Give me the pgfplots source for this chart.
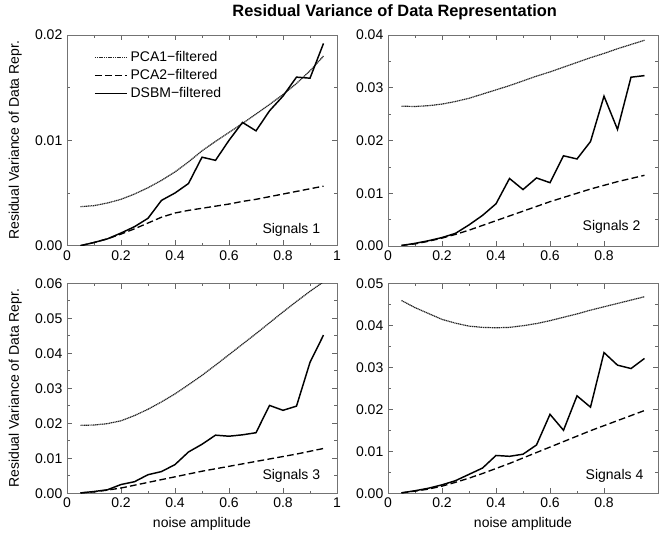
\documentclass[border=0pt]{standalone}
\usepackage{pgfplots}
\pgfplotsset{compat=1.18}
\usepackage{pgfplotstable}
\usepackage{fontspec}
\setmainfont{Liberation Sans}
\setsansfont{Liberation Sans}

\pgfplotstableread{
x pcaA pcaB dsbm
0.05 0.00370 0.00000 0.00000
0.10 0.00380 0.00030 0.00030
0.15 0.00405 0.00065 0.00065
0.20 0.00440 0.00110 0.00120
0.25 0.00490 0.00160 0.00180
0.30 0.00550 0.00215 0.00260
0.35 0.00620 0.00270 0.00430
0.40 0.00700 0.00310 0.00500
0.45 0.00795 0.00335 0.00590
0.50 0.00900 0.00355 0.00840
0.55 0.00990 0.00375 0.00810
0.60 0.01075 0.00395 0.01000
0.65 0.01160 0.00420 0.01170
0.70 0.01250 0.00440 0.01090
0.75 0.01340 0.00465 0.01280
0.80 0.01435 0.00490 0.01420
0.85 0.01540 0.00515 0.01600
0.90 0.01660 0.00540 0.01590
0.95 0.01800 0.00565 0.01920
}\sA

\pgfplotstableread{
x pcaA pcaB dsbm
0.05 0.02650 0.00010 0.00010
0.10 0.02645 0.00040 0.00050
0.15 0.02660 0.00090 0.00100
0.20 0.02690 0.00150 0.00160
0.25 0.02740 0.00220 0.00240
0.30 0.02800 0.00300 0.00400
0.35 0.02880 0.00390 0.00580
0.40 0.02960 0.00480 0.00800
0.45 0.03040 0.00570 0.01280
0.50 0.03130 0.00660 0.01070
0.55 0.03220 0.00750 0.01290
0.60 0.03300 0.00840 0.01200
0.65 0.03390 0.00920 0.01710
0.70 0.03480 0.01000 0.01650
0.75 0.03570 0.01080 0.01980
0.80 0.03650 0.01150 0.02840
0.85 0.03740 0.01220 0.02210
0.90 0.03820 0.01280 0.03200
0.95 0.03900 0.01340 0.03230
}\sB

\pgfplotstableread{
x pcaA pcaB dsbm
0.05 0.01940 0.00010 0.00010
0.10 0.01950 0.00040 0.00050
0.15 0.01990 0.00090 0.00100
0.20 0.02070 0.00150 0.00250
0.25 0.02220 0.00230 0.00330
0.30 0.02400 0.00310 0.00530
0.35 0.02610 0.00390 0.00620
0.40 0.02840 0.00470 0.00820
0.45 0.03100 0.00550 0.01180
0.50 0.03370 0.00630 0.01400
0.55 0.03660 0.00700 0.01660
0.60 0.03960 0.00770 0.01630
0.65 0.04260 0.00840 0.01670
0.70 0.04560 0.00910 0.01730
0.75 0.04870 0.00980 0.02510
0.80 0.05180 0.01050 0.02370
0.85 0.05480 0.01120 0.02490
0.90 0.05770 0.01200 0.03740
0.95 0.06040 0.01280 0.04520
}\sC

\pgfplotstableread{
x pcaA pcaB dsbm
0.05 0.04590 0.00010 0.00010
0.10 0.04420 0.00050 0.00060
0.15 0.04280 0.00100 0.00120
0.20 0.04140 0.00170 0.00200
0.25 0.04050 0.00260 0.00300
0.30 0.03980 0.00360 0.00450
0.35 0.03950 0.00470 0.00600
0.40 0.03940 0.00590 0.00900
0.45 0.03950 0.00710 0.00880
0.50 0.03990 0.00840 0.00930
0.55 0.04040 0.00970 0.01150
0.60 0.04110 0.01100 0.01880
0.65 0.04190 0.01230 0.01500
0.70 0.04270 0.01360 0.02320
0.75 0.04360 0.01490 0.02050
0.80 0.04440 0.01610 0.03350
0.85 0.04520 0.01730 0.03050
0.90 0.04600 0.01850 0.02970
0.95 0.04680 0.01970 0.03210
}\sD

\pgfplotsset{
  panel/.style={
    scale only axis, anchor=south west,
    xmin=0, xmax=1, ymin=0,
    width=202.5pt,
    axis line style={black!55, line width=0.5pt},
    tick style={black!60, line width=0.5pt},
    major tick length=4pt, minor tick length=2pt,
    minor x tick num=1, minor y tick num=1,
    scaled y ticks=false, scaled x ticks=false,
    yticklabel style={/pgf/number format/.cd, fixed, fixed zerofill, precision=2},
    xticklabel style={/pgf/number format/.cd, fixed, precision=1},
    /pgf/number format/assume math mode=true,
    tick label style={font=\fontsize{10.5}{12}\selectfont},
    label style={font=\fontsize{10.5}{12}\selectfont},
    ylabel shift=3pt,
  },
  pcaA/.style={black!85, line width=0.9pt, dash pattern=on 0.9pt off 0.45pt},
  pcaB/.style={black, line width=1.0pt, dash pattern=on 5pt off 2.5pt},
  dsbm/.style={black, line width=1.1pt},
}

\begin{document}
\begin{tikzpicture}
\useasboundingbox (0pt,0pt) rectangle (494.25pt,401.25pt);

% Title
\node[font=\bfseries\fontsize{12.3}{14}\selectfont] at (296pt,392pt) {Residual Variance of Data Representation};

% Top-left
\begin{axis}[panel, at={(50.25pt,217pt)}, height=158pt,
  ymax=0.02,
  xtick={0,0.2,0.4,0.6,0.8,1}, ytick={0,0.01,0.02},
  ylabel={Residual Variance of Data Repr.},
  legend style={at={(0.085,0.95)}, anchor=north west, draw=none, fill=none,
    font=\fontsize{10.5}{12}\selectfont, row sep=0.5pt},
  legend cell align=left,
  legend image code/.code={\draw[#1] (0cm,0cm) -- (0.85cm,0cm);},
]
\addplot[pcaA] table[x=x, y=pcaA] {\sA};
\addlegendentry{PCA1−filtered}
\addplot[pcaB] table[x=x, y=pcaB] {\sA};
\addlegendentry{PCA2−filtered}
\addplot[dsbm] table[x=x, y=dsbm] {\sA};
\addlegendentry{DSBM−filtered}
\node[anchor=east, font=\fontsize{10.5}{12}\selectfont] at (rel axis cs:0.955,0.075) {Signals 1};
\end{axis}

% Top-right
\begin{axis}[panel, at={(291pt,216.75pt)}, height=158.25pt,
  ymax=0.04,
  xtick={0,0.2,0.4,0.6,0.8}, ytick={0,0.01,0.02,0.03,0.04},
]
\addplot[pcaA] table[x=x, y=pcaA] {\sB};
\addplot[pcaB] table[x=x, y=pcaB] {\sB};
\addplot[dsbm] table[x=x, y=dsbm] {\sB};
\node[anchor=east, font=\fontsize{10.5}{12}\selectfont] at (rel axis cs:0.952,0.09) {Signals 2};
\end{axis}

% Bottom-left
\begin{axis}[panel, at={(50.25pt,31.3pt)}, height=157.5pt,
  ymax=0.06,
  xtick={0,0.2,0.4,0.6,0.8,1}, ytick={0,0.01,0.02,0.03,0.04,0.05,0.06},
  ylabel={Residual Variance of Data Repr.},
  xlabel={noise amplitude},
]
\addplot[pcaA] table[x=x, y=pcaA] {\sC};
\addplot[pcaB] table[x=x, y=pcaB] {\sC};
\addplot[dsbm] table[x=x, y=dsbm] {\sC};
\node[anchor=east, font=\fontsize{10.5}{12}\selectfont] at (rel axis cs:0.955,0.082) {Signals 3};
\end{axis}

% Bottom-right
\begin{axis}[panel, at={(291pt,31.3pt)}, height=157.5pt,
  ymax=0.05,
  xtick={0,0.2,0.4,0.6,0.8}, ytick={0,0.01,0.02,0.03,0.04,0.05},
  xlabel={noise amplitude},
]
\addplot[pcaA] table[x=x, y=pcaA] {\sD};
\addplot[pcaB] table[x=x, y=pcaB] {\sD};
\addplot[dsbm] table[x=x, y=dsbm] {\sD};
\node[anchor=east, font=\fontsize{10.5}{12}\selectfont] at (rel axis cs:0.963,0.082) {Signals 4};
\end{axis}
\end{tikzpicture}
\end{document}
